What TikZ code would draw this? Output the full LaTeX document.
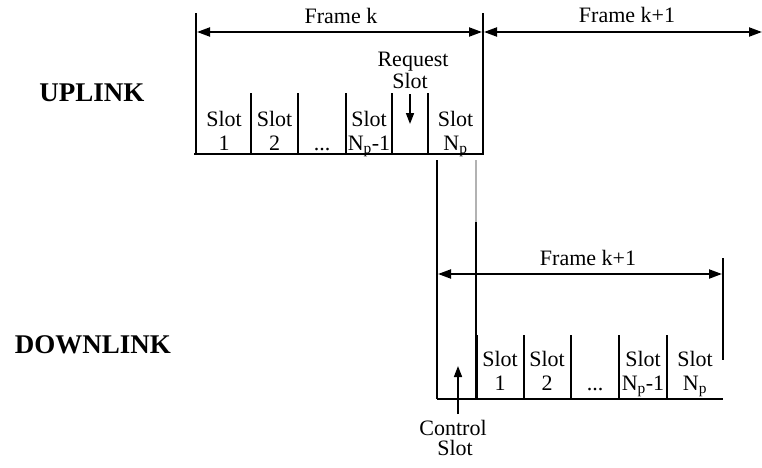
\documentclass[tikz,border=0pt]{standalone}
\usepackage{fontspec}
\setmainfont{Liberation Serif}
\usetikzlibrary{arrows.meta}
\begin{document}
\begin{tikzpicture}[x=1pt,y=-1pt,
  lbl/.style={inner sep=0pt, anchor=base, font=\fontsize{22}{24}\selectfont},
  big/.style={inner sep=0pt, anchor=base, font=\fontsize{27}{30}\selectfont\bfseries},
  frm/.style={line width=2pt},
  baseln/.style={line width=2.4pt},
  div/.style={line width=1.6pt},
  thin/.style={line width=1.2pt},
  dim/.style={line width=2pt, {Triangle[length=13pt,width=9pt]}-{Triangle[length=13pt,width=9pt]}},
  ptr/.style={line width=1.6pt, -{Triangle[length=11pt,width=8pt]}}
]
\useasboundingbox (0,0) rectangle (762,467);

% side labels
\node[big] (up) at (92,101) {UPLINK};
\node[big] (down) at (93,353) {DOWNLINK};

% ---------------- UPLINK ----------------
\draw[frm] (196,13) -- (196,155);
\draw[frm] (483,13) -- (483,155);
\draw[baseln] (194,154) -- (483,154);
\draw[dim] (197,32) -- (482,32);
\draw[dim] (484,32) -- (762,32);
\node[lbl] (fk) at (341,23) {Frame k};
\node[lbl] (fk1) at (627,22) {Frame k+1};

\foreach \x in {251,298,346,392,428} \draw[div] (\x,93) -- (\x,154);

\node[lbl] (u1a) at (224,126) {Slot};
\node[lbl] (u1b) at (224,150) {1};
\node[lbl] (u2a) at (274.5,126) {Slot};
\node[lbl] (u2b) at (274.5,150) {2};
\node[lbl] (udots) at (322,150) {...};
\node[lbl] (u3a) at (369,126) {Slot};
\node[lbl] (u3b) at (369,150) {N\textsubscript{p}-1};
\node[lbl] (u4a) at (455.5,126) {Slot};
\node[lbl] (u4b) at (455.5,150) {N\textsubscript{p}};

\node[lbl] (req) at (413,66) {Request};
\node[lbl] (reqs) at (410,88) {Slot};
\coordinate (reqtip) at (410,124);
\draw[ptr] (410,94) -- (reqtip);

% connecting lines
\draw[thin] (437,160) -- (437,258);
\draw[thin, gray!60] (476,160) -- (476,222);
\draw[thin] (476,222) -- (476,399);

% ---------------- DOWNLINK ----------------
\draw[frm] (437,258) -- (437,399);
\draw[frm] (723,258) -- (723,360);
\draw[baseln] (437,399) -- (723,399);
\draw[dim] (438,274) -- (722,274);
\node[lbl] (dk1) at (588,265) {Frame k+1};

\draw[div] (477,335) -- (477,399);
\foreach \x in {524,571,619,667} \draw[div] (\x,335) -- (\x,399);

\node[lbl] (d1a) at (500,366) {Slot};
\node[lbl] (d1b) at (500,390) {1};
\node[lbl] (d2a) at (547,366) {Slot};
\node[lbl] (d2b) at (547,390) {2};
\node[lbl] (ddots) at (595,390) {...};
\node[lbl] (d3a) at (643,366) {Slot};
\node[lbl] (d3b) at (643,390) {N\textsubscript{p}-1};
\node[lbl] (d4a) at (695,366) {Slot};
\node[lbl] (d4b) at (695,390) {N\textsubscript{p}};

\node[lbl] (ctl) at (453,435) {Control};
\node[lbl] (ctls) at (455,455) {Slot};
\coordinate (ctltip) at (458,366);
\coordinate (ctlstart) at (458,414);
\draw[ptr] (ctlstart) -- (ctltip);
\end{tikzpicture}
\end{document}
